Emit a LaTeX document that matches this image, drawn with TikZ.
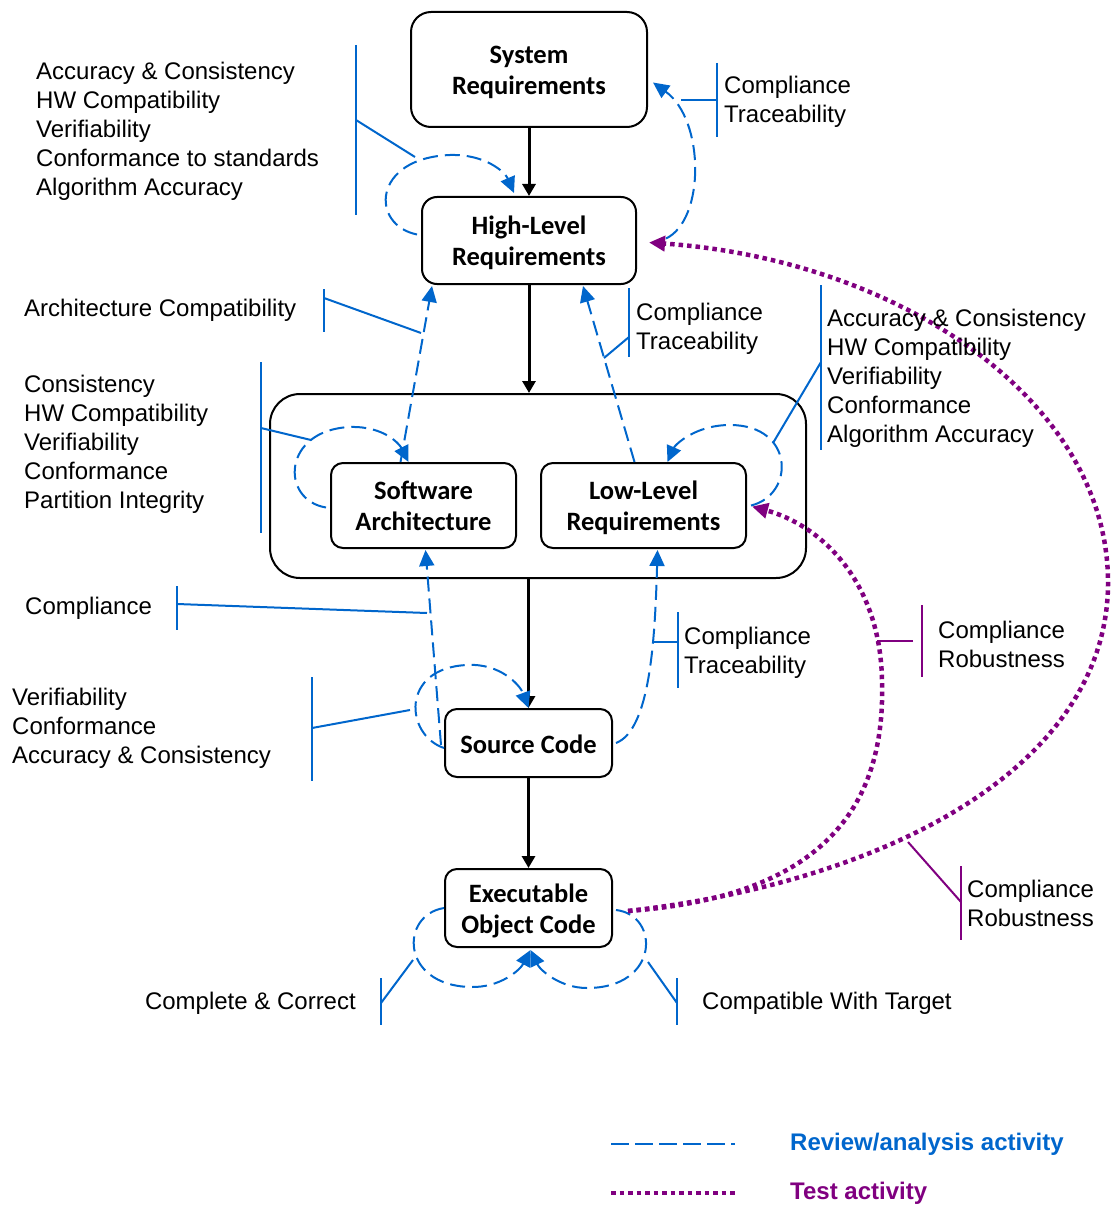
\documentclass[tikz,border=0pt]{standalone}
\usepackage{fontspec}
\setmainfont{Liberation Sans}
\newfontfamily\boxfont{Carlito}
\usetikzlibrary{arrows.meta,calc}
\definecolor{rvblue}{RGB}{0,102,204}
\definecolor{tpurple}{RGB}{128,0,128}
\newcommand{\twol}[2]{\raisebox{-3.5pt}[\height][\depth]{\begin{tabular}{@{}c@{}}#1\\#2\end{tabular}}}
\begin{document}
\begin{tikzpicture}[x=1pt,y=-1pt,
 box/.style={draw=black, line width=2pt, rounded corners=12pt, font=\boxfont\bfseries\fontsize{26.5}{31}\selectfont, align=center, inner sep=0pt},
 flow/.style={line width=3pt, -{Triangle[length=12pt,width=13pt]}},
 rev/.style={draw=rvblue, line width=2pt, dash pattern=on 15pt off 7pt},
 revarr/.style={rev, -{Triangle[length=16pt,width=15pt]}},
 tst/.style={draw=tpurple, line width=4.5pt, dash pattern=on 4.5pt off 4pt},
 tstarr/.style={tst, -{Triangle[length=16pt,width=15pt]}},
 brk/.style={draw=rvblue, line width=2pt},
 pbrk/.style={draw=tpurple, line width=2pt},
 lbl/.style={font=\fontsize{24}{29}\selectfont, align=left, anchor=west, inner sep=0pt},
 leg/.style={font=\bfseries\fontsize{24}{29}\selectfont, anchor=west, inner sep=0pt},
]
\useasboundingbox (0,0) rectangle (1111,1206);

% boxes
\node[box, rounded corners=20pt, minimum width=236pt, minimum height=115pt] (sys) at (529,69.5) {\twol{System}{Requirements}};
\node[box, rounded corners=15pt, minimum width=214pt, minimum height=87pt] (hlr) at (529,240.5) {\twol{High-Level}{Requirements}};
\node[draw, line width=2pt, rounded corners=30pt, minimum width=536pt, minimum height=184pt, inner sep=0pt] (cont) at (538,486) {};
\node[box, minimum width=185pt, minimum height=85pt] (sa) at (423.5,505.5) {\twol{Software}{Architecture}};
\node[box, minimum width=205pt, minimum height=85pt] (llr) at (643.5,505.5) {\twol{Low-Level}{Requirements}};
\node[box, minimum width=167pt, minimum height=68pt] (sc) at (528.5,743) {\raisebox{-1.5pt}[\height][\depth]{Source Code}};
\node[box, minimum width=167pt, minimum height=78pt] (eoc) at (528.5,908) {\twol{Executable}{Object Code}};

% flow arrows
\draw[flow] (sys.south) -- (hlr.north);
\draw[flow] (hlr.south) -- (hlr.south |- cont.north);
\draw[flow] (sc.north |- cont.south) -- (sc.north);
\draw[flow] (sc.south) -- (eoc.north);

% review / analysis
\draw[revarr] ($(hlr.east)+(29,-2)$) .. controls (705,220) and (705,120) .. ($(sys.east)+(5,13)$);
\draw[revarr] ($(hlr.west)+(-4,-6)$) .. controls (370,225) and (372,158) .. (450,155) .. controls (485,154) and (505,172) .. ($(hlr.north)+(-15,-3)$);
\draw[revarr] ($(sa.north)+(-23,0)$) -- ($(hlr.south)+(-97,1)$);
\draw[revarr] ($(llr.north)+(-9,0)$) -- ($(hlr.south)+(54,1)$);
\draw[revarr] ($(sa.west)+(-4,2)$) .. controls (280,500) and (282,430) .. (350,427) .. controls (385,426) and (400,445) .. ($(sa.north)+(-15,0)$);
\draw[revarr] ($(llr.east)+(4,0)$) .. controls (795,495) and (795,425) .. (730,425) .. controls (695,425) and (675,445) .. ($(llr.north)+(24,0)$);
\draw[revarr] ($(sc.west)+(-3,2)$) -- ($(sa.south)+(2,1)$);
\draw[revarr] ($(sc.west)+(0,5)$) .. controls (405,735) and (400,668) .. (467,665) .. controls (500,663) and (520,685) .. (sc.north);
\draw[revarr] ($(sc.east)+(3,0)$) .. controls (650,730) and (655,640) .. ($(llr.south)+(14,1)$);
\draw[revarr] (eoc.west) .. controls (400,915) and (400,985) .. (470,987) .. controls (500,988) and (520,970) .. ($(eoc.south)+(2,2)$);
\draw[revarr] ($(eoc.east)+(3,2)$) .. controls (660,915) and (660,988) .. (587,988) .. controls (560,988) and (540,970) .. ($(eoc.south)+(2,2)$);

% test
\draw[tstarr] ($(eoc.east)+(15,3)$) .. controls (900,880) and (1110,760) .. (1108,580) .. controls (1106,400) and (900,260) .. ($(hlr.east)+(12,2)$);
\draw[tstarr] ($(eoc.east)+(15,3)$) .. controls (850,895) and (885,780) .. (882,680) .. controls (880,580) and (820,525) .. ($(llr.east)+(5,1)$);

% brackets
\draw[brk] (356,45) -- (356,215); \draw[brk] (356,120) -- (415,157);
\draw[brk] (717,63) -- (717,137); \draw[brk] (717,100) -- (681,100);
\draw[brk] (324,289) -- (324,332); \draw[brk] (324,298) -- (421,333);
\draw[brk] (629,288) -- (629,357); \draw[brk] (629,337) -- (604,358);
\draw[brk] (261,362) -- (261,533); \draw[brk] (261,428) -- (311,440);
\draw[brk] (821,285) -- (821,450); \draw[brk] (821,362) -- (773,443);
\draw[brk] (177,586) -- (177,630); \draw[brk] (177,604) -- (427,613);
\draw[brk] (678,612) -- (678,688); \draw[brk] (678,642) -- (652,642);
\draw[brk] (312,677) -- (312,781); \draw[brk] (312,728) -- (410,710);
\draw[brk] (381,978) -- (381,1025); \draw[brk] (381,1003) -- (413,960);
\draw[brk] (677,978) -- (677,1025); \draw[brk] (677,1003) -- (648,962);
\draw[pbrk] (922,605) -- (922,677); \draw[pbrk] (913,641) -- (877,641);
\draw[pbrk] (961,866) -- (961,940); \draw[pbrk] (961,902) -- (908,842);

% labels
\node[lbl] (t1) at (36,131) {Accuracy \& Consistency\\HW Compatibility\\Verifiability\\Conformance to standards\\Algorithm Accuracy};
\node[lbl] (t2) at (724,102) {Compliance\\Traceability};
\node[lbl] (t3) at (24,310.5) {Architecture Compatibility};
\node[lbl] (t4) at (636,329) {Compliance\\Traceability};
\node[lbl] (t5) at (24,444) {Consistency\\HW Compatibility\\Verifiability\\Conformance\\Partition Integrity};
\node[lbl] (t6) at (827,378) {Accuracy \& Consistency\\HW Compatibility\\Verifiability\\Conformance\\Algorithm Accuracy};
\node[lbl] (t7) at (25,608.5) {Compliance};
\node[lbl] (t8) at (684,652.5) {Compliance\\Traceability};
\node[lbl] (t9) at (12,728.5) {Verifiability\\Conformance\\Accuracy \& Consistency};
\node[lbl] (t10) at (938,644) {Compliance\\Robustness};
\node[lbl] (t11) at (967,903.5) {Compliance\\Robustness};
\node[lbl, anchor=east] (t12) at (356,1003.5) {Complete \& Correct};
\node[lbl] (t13) at (702,1003.5) {Compatible With Target};

% legend
\coordinate (lga) at (611,1144); \coordinate (lgb) at (735,1144);
\coordinate (lgc) at (611,1193); \coordinate (lgd) at (735,1193);
\draw[rev, dash pattern=on 18pt off 6pt] (lga) -- (lgb);
\draw[tst] (lgc) -- (lgd);
\node[leg, text=rvblue] (lg1) at (790,1144.5) {Review/analysis activity};
\node[leg, text=tpurple] (lg2) at (790,1193.5) {Test activity};
\end{tikzpicture}
\end{document}
